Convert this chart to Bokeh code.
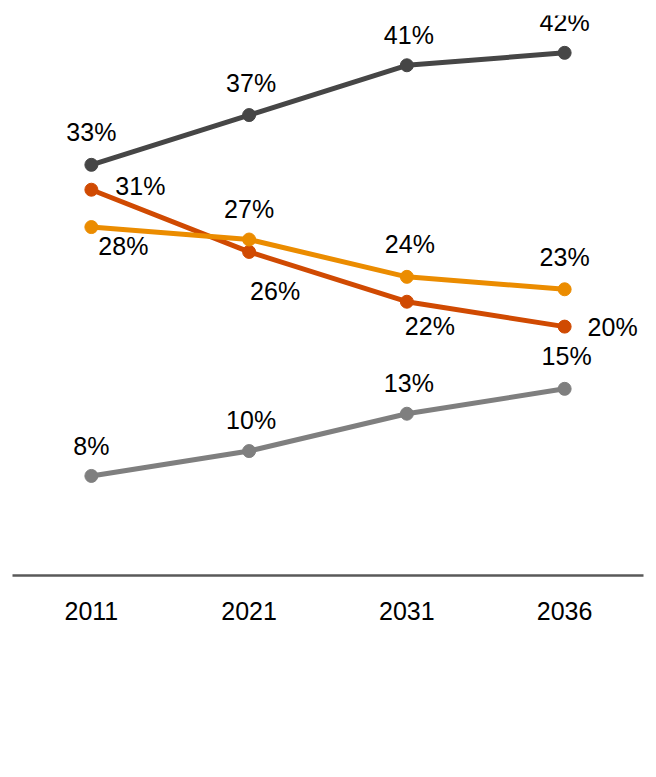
from bokeh.plotting import figure
from bokeh.models import (ColumnDataSource, Range1d, Legend, LegendItem, LabelSet,
                          FixedTicker)
from bokeh.core.properties import value
from bokeh.embed import file_html
from bokeh.resources import INLINE

years = ["2011", "2021", "2031", "2036"]
series_names = ["0 – 14 years", "15 - 29 years", "30 - 59 years", "60+ years"]
age_0_14 = [31, 26, 22, 20]
age_15_29 = [28, 27, 24, 23]
age_30_59 = [33, 37, 41, 42]
age_60_plus = [8, 10, 13, 15]

# styles
colors = ["#D04A02", "#EB8C00", "#464646", "#7F7F7F"]
# label placement offsets in px (dx right, dy up)
label_dx = [[49, 26, 23, 48], [32, 0, 3, 0], [0, 2, 2, 0], [0, 2, 2, 2]]
label_dy = [[4, -39, -24, 0], [-19, 31, 33, 32], [33, 32, 30, 31], [30, 31, 31, 33]]

FONT = "Liberation Sans"
xpos = list(range(len(years)))

p = figure(frame_width=631, frame_height=560,
           x_range=Range1d(-0.5, len(years) - 0.5),
           y_range=Range1d(0, 45),
           output_backend="svg", toolbar_location=None,
           y_axis_location=None,
           min_border_left=12, min_border_right=5, min_border_top=15,
           min_border_bottom=0)
p.grid.visible = False
p.outline_line_color = None

xa = p.xaxis[0]
xa.ticker = FixedTicker(ticks=xpos)
xa.major_label_overrides = {i: y for i, y in zip(xpos, years)}
xa.major_tick_line_color = None
xa.minor_tick_line_color = None
xa.axis_line_color = "#595959"
xa.axis_line_width = 2.5
xa.major_label_text_font = FONT
xa.major_label_text_font_size = "25px"
xa.major_label_text_color = "#000000"
xa.major_label_standoff = 20
xa.axis_label = " "
xa.axis_label_text_font_size = "1px"
xa.axis_label_standoff = 51

all_series = [age_0_14, age_15_29, age_30_59, age_60_plus]
items = []
for name, vals, col, dxs, dys in zip(series_names, all_series, colors, label_dx, label_dy):
    src = ColumnDataSource(dict(x=xpos, y=vals,
                                txt=[f"{v}%" for v in vals],
                                dx=dxs, dy=dys))
    lr = p.line("x", "y", source=src, line_color=col, line_width=5)
    sr = p.scatter("x", "y", source=src, size=13, fill_color=col, line_color=col)
    labels = LabelSet(x="x", y="y", text="txt", source=src,
                      x_offset="dx", y_offset="dy",
                      text_align="center", text_baseline="middle",
                      text_font=value(FONT), text_font_size="25px",
                      text_color="#000000")
    p.add_layout(labels)
    items.append(LegendItem(label=name, renderers=[lr, sr]))

legend = Legend(items=[items[0], items[2], items[1], items[3]],
                orientation="horizontal", ncols=2,
                location="top_right", margin=0, padding=0,
                glyph_width=64, glyph_height=36, label_height=36,
                label_width=180, label_standoff=32, spacing=28,
                label_text_font=FONT, label_text_font_size="25px",
                label_text_color="#000000",
                border_line_color=None, background_fill_alpha=0)
p.add_layout(legend, "below")

open("out.html", "w").write(file_html(p, INLINE))
